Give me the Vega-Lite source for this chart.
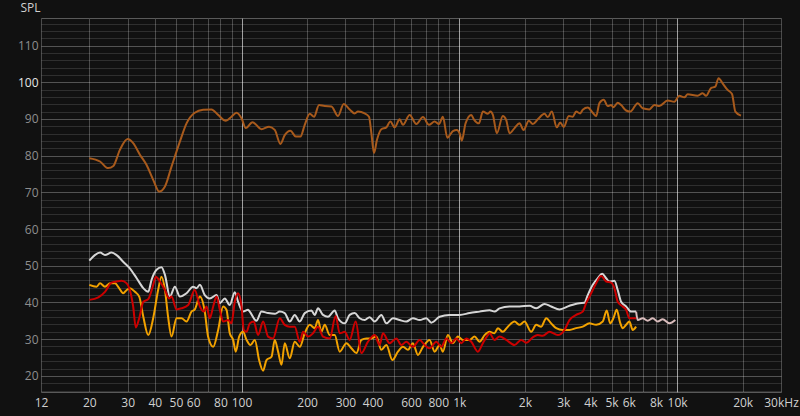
{
"$schema": "https://vega.github.io/schema/vega-lite/v6.json",
"width": 740, "height": 374,
"autosize": {"type": "none"},
"padding": {"left": 41, "top": 18, "right": 19, "bottom": 24},
"background": "#111111",
"config": {"view": {"stroke": "#5a5a5a", "fill": "#111111"}, "font": "Open Sans"},
"datasets": {
"B": [[20,79.3],[22.4,78.4],[24.4,76.6],[25.8,77.2],[27.6,81.5],[30,84.5],[31.8,83.4],[34.2,80.2],[36.6,77.5],[39.3,73.4],[41.9,70.2],[44.5,71.6],[47.7,77],[52.1,83.8],[55.9,88.8],[61,91.7],[66.6,92.5],[72.8,92.6],[78.1,91.1],[84.7,89.5],[89.9,90.6],[94.8,91.7],[100,90.2],[104.6,87.5],[112.3,89.1],[123.5,87.2],[133.8,87.9],[142.1,87],[150.9,83.2],[157.9,85.6],[167.7,86.8],[177.4,85.2],[186.4,85.2],[195.1,88.4],[205.7,91.4],[215.3,90.6],[226.9,93.8],[241,93.5],[258.7,93.4],[277.3,90.8],[294.5,94.1],[313.7,92.6],[330.7,91.5],[342.4,92],[367.6,91.5],[384.8,90.6],[394.7,86.1],[405.6,80.7],[418.7,84.3],[438.5,87.2],[462.4,87.7],[482.3,89.3],[504.8,87.7],[532.1,89.9],[551,88.4],[591.5,91.1],[634.9,88.6],[680.8,90.5],[725.3,88.4],[770.2,89.3],[806.1,88.6],[840.8,90.6],[880.8,84.9],[934.4,86.7],[974.5,87],[1003,86.1],[1027,84.1],[1068,88.8],[1135,91.1],[1166,89.9],[1230,88.8],[1283,92],[1352,91.4],[1391,92],[1426,91.1],[1487,86.1],[1584,90.8],[1642,89.7],[1701,86.1],[1793,87.5],[1890,88.8],[1972,87],[2085,89.5],[2175,88.6],[2293,89.9],[2462,91.4],[2549,90.5],[2659,92],[2803,87.7],[2905,89],[3018,87.8],[3181,90.8],[3318,90.6],[3439,92],[3588,91.5],[3688,92.5],[3888,93.1],[4100,91.7],[4250,90.8],[4400,94.3],[4604,95.2],[4803,93.5],[4979,93.8],[5100,93.2],[5338,94.4],[5533,93.8],[5834,92.3],[6103,92],[6594,94.3],[6950,92.9],[7459,92.6],[7863,93.8],[8289,93.5],[9051,95],[9717,94.7],[10240,96.3],[10800,95.9],[11180,96.7],[12420,96.3],[13100,97],[13580,96.3],[14310,98.4],[14980,98.8],[15510,101.1],[16180,99.7],[17060,97.9],[17870,96.8],[18510,92],[19650,90.9]],
"W": [[20,51.4],[21.2,52.9],[22.4,53.6],[23.6,52.9],[25.3,53.6],[26.7,52.9],[28.6,51.1],[30.7,49.3],[33,46.6],[35.4,43.9],[37.3,42.9],[38.6,46.1],[40.7,48.9],[42.9,49.6],[44.5,47.5],[46.9,41.6],[49.4,44.3],[52.1,41.6],[55.9,42.5],[59.9,44.3],[62.1,43.9],[64.4,44.8],[67.8,42],[71.5,41.1],[76.8,42],[79.5,39.8],[83.8,41.1],[88.3,39.3],[93.1,42.8],[96.4,40.2],[101.7,37.5],[107.2,38],[109.1,37.5],[117.1,35],[123.5,37.5],[132.4,37.1],[142.1,36.9],[149.8,37.5],[157.9,37.1],[166.5,34.8],[175.5,36.6],[185.1,34.8],[195.1,37.1],[209.4,37.8],[216.8,36.6],[224.5,38.4],[236.7,36.6],[249.5,36.1],[267.8,37.8],[277.3,35.7],[297.7,34.3],[313.7,36.6],[330.7,37.1],[348.8,35.7],[367.6,35.2],[387.6,36],[408.6,34.8],[438.5,36.6],[462.4,34.3],[495.8,35.7],[532.1,35.2],[571.1,34.8],[612.4,35.7],[657.2,35.2],[705.5,35.7],[743.7,34.5],[812,36.1],[902.3,36.6],[1003,36.6],[1115,37.1],[1239,37.5],[1377,37.9],[1451,37.5],[1530,38.4],[1701,38.9],[1890,38.9],[2101,39.1],[2255,38.4],[2462,39.6],[2642,38.9],[2884,38.1],[3205,39.1],[3562,39.8],[3754,39.9],[3888,42],[4100,44.8],[4322,46.6],[4528,47.8],[4723,46.6],[4890,45.7],[5154,45.9],[5338,43.4],[5533,40.2],[5834,38.9],[6148,37.5],[6483,37.5]],
"W2": [[6483,37.5],[6594,35.2],[6950,35.7],[7328,35],[7727,35.7],[8143,34.8],[8585,35.4],[9216,34.3],[9817,35.2]],
"R": [[20,40.7],[22,41.4],[23.6,42.9],[25.3,45.4],[26.7,45.7],[28.1,45.9],[29.7,45.2],[30.7,43.4],[31.8,38.9],[32.7,33.2],[33.9,35.7],[35.4,40.2],[37.3,40.9],[39.1,44.3],[40.4,47],[42.2,45.7],[44.5,43.4],[46.5,41.1],[47.7,41.6],[50.3,38.1],[53,38.4],[56.9,39.3],[61,43.4],[64.4,38.9],[67.1,37.5],[69.1,38.9],[71.5,35.7],[74.1,38.9],[76.8,41.6],[79.5,38],[82.3,34.8],[86.8,35.2],[89.9,34.3],[93.1,40.2],[96.4,42.5],[100,38.9],[102.4,32.5],[105.4,32],[109.1,34.3],[113.8,34.8],[119.1,31.1],[125.6,34.8],[132.4,30.7],[139.6,30.2],[149.8,35.7],[157.9,33.9],[166.5,33.4],[175.5,33.4],[185.1,29.3],[191.6,32],[202,30.7],[212.9,31.6],[224.5,33.4],[236.7,30.7],[254.1,30.2],[270.6,36.3],[282.3,31.6],[297.7,32],[313.7,29.8],[334.4,34.8],[355.1,26.2],[380.7,29.3],[408.6,31.1],[430.7,28.4],[446,31.6],[478.7,28.9],[513.9,30.2],[541.8,28.4],[571.1,29.3],[612.4,27.9],[657.2,29.8],[692.9,28.4],[730.4,27.5],[784,29.3],[826.7,27.9],[871.5,30.2],[918.7,28.9],[968.5,30.2],[1021,28.9],[1076,30.2],[1135,29.3],[1217,26.6],[1283,28.9],[1352,31.1],[1377,31.6],[1451,29.8],[1530,30.7],[1642,29.8],[1793,28.4],[1924,29.8],[2029,29],[2175,30.5],[2293,31.1],[2417,30.9],[2595,32],[2832,31.1],[3040,32.5],[3205,35.2],[3439,36.6],[3688,37.5],[3822,39.8],[4030,42.5],[4250,45.2],[4480,47.2],[4723,45.7],[4979,45.4],[5154,43.9],[5338,40.2],[5627,38.9],[5834,38],[6039,35.7],[6483,35.7]],
"O": [[20,44.8],[21.6,44.3],[22.4,45.2],[23.6,44.3],[24.9,45.2],[26.2,45.2],[27.4,43.9],[28.6,42.5],[29.7,43.4],[30.7,43.9],[32.4,42.9],[33.9,41.6],[35.4,36.1],[37.3,31.1],[39.3,35.7],[41.4,43.4],[42.9,47],[44.5,43.4],[46,36.1],[47.7,30.7],[50.3,35.7],[53,35.7],[55.9,34.8],[58.9,37.5],[61,38.1],[64.4,41.6],[67.8,37.5],[70.2,30.7],[74.1,27.9],[78.1,32.5],[82.3,38.9],[85.3,38],[88.3,31.6],[91.5,29.8],[94.1,26.6],[97.5,30.7],[101.7,32],[105.4,29.8],[109.9,28.4],[115.1,29.8],[120.4,24.3],[125.6,21.4],[130.2,24.3],[137.3,25.2],[142.1,29.8],[147.2,26.6],[152.6,23],[157.9,28.9],[166.5,24.8],[175.5,29.3],[185.1,27.9],[195.1,31.6],[205.7,33.9],[216.8,33],[224.5,35.2],[232.7,32],[241,33.9],[254.1,31.1],[267.8,31.1],[282.3,26.6],[303.1,28.9],[319.5,27.5],[336.9,26.2],[355.1,29.8],[374.3,30.2],[394.7,30.2],[416,30.7],[438.5,27.1],[462.4,28.4],[492.6,24.3],[522.6,26.6],[551,27.9],[580.9,27.1],[612.4,28.9],[645.5,25.7],[680.8,27.9],[730.4,29.8],[770.2,26.6],[812,28.4],[840.8,26.6],[886.3,31.1],[934.4,28.9],[984.9,30.7],[1038,29.8],[1115,29.8],[1175,30.7],[1239,29.3],[1306,31.1],[1377,32],[1451,31.6],[1503,33],[1582,32],[1671,33.4],[1793,34.8],[1890,33.9],[1993,34.8],[2138,32],[2255,33.9],[2377,33.4],[2506,35.7],[2642,34.3],[2785,33],[2986,32.5],[3205,32.5],[3439,33],[3688,33.4],[3958,34.3],[4250,33.9],[4557,34.8],[4753,37.8],[4926,34.3],[5100,35.7],[5282,38],[5475,34.5],[5627,33],[5834,33.9],[6039,34.8],[6254,32.5],[6483,33.4]]
},
"layer": [
 {"data": {"name": "B"}, "transform": [{"calculate": "datum[0]", "as": "f"}, {"calculate": "datum[1]", "as": "db"}],
  "mark": {"type": "line", "strokeWidth": 2, "interpolate": "monotone", "color": "#a85a1c"},
  "encoding": {
   "x": {"field": "f", "type": "quantitative", "scale": {"type": "log", "domain": [12, 30000], "nice": false},
     "axis": {"values": [12,20,30,40,50,60,70,80,90,100,200,300,400,500,600,700,800,900,1000,2000,3000,4000,5000,6000,7000,8000,9000,10000,20000,30000],
      "tickCount": 200,
      "grid": true, "gridColor": {"condition": {"test": "datum.value==100||datum.value==1000||datum.value==10000", "value": "#a0a0a0"}, "value": "#4a4a4a"},
      "ticks": false, "domain": false, "labelColor": "#d0d0d0", "labelFontSize": 12, "labelPadding": 5, "labelBaseline": "top",
      "labelOverlap": false, "labelFlush": false, "labelBound": false, "title": null,
      "labelExpr": "datum.value==30000 ? '30kHz' : (indexof([12,20,30,40,50,60,80,100,200,300,400,600,800,1000,2000,3000,4000,5000,6000,8000,10000,20000], datum.value) >= 0 ? (datum.value >= 1000 ? (datum.value/1000) + 'k' : '' + datum.value) : '')"}},
   "y": {"field": "db", "type": "quantitative", "scale": {"domain": [15.6, 117.5], "nice": false, "zero": false},
     "axis": {"values": [16,18,20,22,24,26,28,30,32,34,36,38,40,42,44,46,48,50,52,54,56,58,60,62,64,66,68,70,72,74,76,78,80,82,84,86,88,90,92,94,96,98,100,102,104,106,108,110,112,114,116],
      "tickCount": 200, "format": "d",
      "grid": true, "gridColor": "#ffffff",
      "gridOpacity": {"condition": {"test": "datum.value % 10 == 0", "value": 0.28}, "value": 0.13},
      "ticks": false, "domain": false, "labelFontSize": 12, "labelPadding": 3,
      "labelOverlap": false, "labelFlush": false, "labelBound": false,
      "labelColor": {"condition": {"test": "datum.value == 100", "value": "#e6e6e6"}, "value": "#8e8e8e"},
      "labelExpr": "datum.value % 10 == 0 ? datum.label : ''",
      "title": "SPL", "titleAngle": 0, "titleAlign": "left", "titleBaseline": "middle", "titleX": -21, "titleY": -11,
      "titleColor": "#d0d0d0", "titleFontSize": 12, "titleFontWeight": "normal"}}
  }},
 {"data": {"name": "W"}, "transform": [{"calculate": "datum[0]", "as": "f"}, {"calculate": "datum[1]", "as": "db"}],
  "mark": {"type": "line", "strokeWidth": 2, "interpolate": "monotone", "color": "#d6d6d6"},
  "encoding": {"x": {"field": "f", "type": "quantitative"}, "y": {"field": "db", "type": "quantitative"}}},
 {"data": {"name": "W2"}, "transform": [{"calculate": "datum[0]", "as": "f"}, {"calculate": "datum[1]", "as": "db"}],
  "mark": {"type": "line", "strokeWidth": 2, "interpolate": "monotone", "color": "#d9bcbc"},
  "encoding": {"x": {"field": "f", "type": "quantitative"}, "y": {"field": "db", "type": "quantitative"}}},
 {"data": {"name": "O"}, "transform": [{"calculate": "datum[0]", "as": "f"}, {"calculate": "datum[1]", "as": "db"}],
  "mark": {"type": "line", "strokeWidth": 2, "interpolate": "monotone", "color": "#f2a200"},
  "encoding": {"x": {"field": "f", "type": "quantitative"}, "y": {"field": "db", "type": "quantitative"}}},
 {"data": {"name": "R"}, "transform": [{"calculate": "datum[0]", "as": "f"}, {"calculate": "datum[1]", "as": "db"}],
  "mark": {"type": "line", "strokeWidth": 2, "interpolate": "monotone", "color": "#cc0000"},
  "encoding": {"x": {"field": "f", "type": "quantitative"}, "y": {"field": "db", "type": "quantitative"}}}
]
}
